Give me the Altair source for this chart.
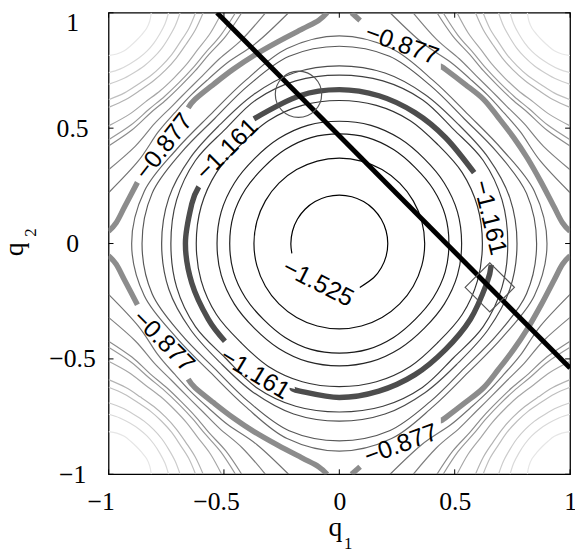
import math
import altair as alt
import pandas as pd

# ---------------- data ----------------
TICKS = [-1, -0.5, 0, 0.5, 1]

# unlabelled closed contours round the minimum at the origin:
# radius read at 0, 15, 30 and 45 degrees (the pattern is square-symmetric)
CENTRAL_R = [
    [0.37, 0.37, 0.37, 0.37],
    [0.475, 0.475, 0.47, 0.465],
    [0.53, 0.53, 0.525, 0.52],
    [0.62, 0.62, 0.615, 0.605],
    [0.73, 0.73, 0.72, 0.70],
    [0.77, 0.765, 0.745, 0.73],
    [0.855, 0.84, 0.79, 0.765],
    [0.90, 0.875, 0.815, 0.79],
]
CENTRAL_COLOR = ["#0d0d0d", "#1a1a1a", "#262626", "#333333",
                 "#404040", "#4d4d4d", "#595959", "#666666"]

# unlabelled contours round the maxima at the four corners:
# distance from the corner read at 0, 11.25, 22.5, 33.75, 45 deg away from an edge
CORNER_D = [
    [0.185, 0.182, 0.178, 0.172, 0.17],
    [0.26, 0.249, 0.24, 0.236, 0.235],
    [0.31, 0.294, 0.282, 0.277, 0.275],
    [0.377, 0.354, 0.335, 0.328, 0.325],
    [0.41, 0.383, 0.362, 0.353, 0.35],
    [0.49, 0.45, 0.418, 0.405, 0.40],
    [0.55, 0.496, 0.454, 0.436, 0.43],
    [0.577, 0.518, 0.471, 0.452, 0.445],
    [0.68, 0.59, 0.52, 0.49, 0.48],
    [0.78, 0.656, 0.56, 0.519, 0.505],
]
CORNER_COLOR = ["#e6e6e6", "#d9d9d9", "#cccccc", "#bfbfbf", "#b3b3b3",
                "#a6a6a6", "#999999", "#8c8c8c", "#808080", "#737373"]

# -0.877 contour near the top-right corner, traced from the top edge to the right edge
C877_X = [0.053, 0.09, 0.16, 0.265, 0.37, 0.46, 0.545, 0.625, 0.69, 0.755, 0.815, 0.875, 0.93, 0.967, 1.0]
C877_Y = [1.0, 0.967, 0.93, 0.875, 0.815, 0.755, 0.69, 0.625, 0.545, 0.46, 0.37, 0.265, 0.16, 0.09, 0.053]
C877_TOP_START = (0.44, 0.768)    # where the right-hand pieces resume after the label
C877_LEFT_END = (0.655, 0.588)    # where the left-hand pieces stop before the label

# -1.161 contour: visible arcs (angle in degrees, radius)
C1161_ARCS = [
    ([27.7, 45, 60, 75, 90, 105, 124.4], [0.66, 0.65, 0.655, 0.663, 0.667, 0.663, 0.655]),
    ([158, 165, 180, 195, 210, 220.5], [0.657, 0.662, 0.667, 0.662, 0.656, 0.652]),
    ([252, 255, 270, 285, 300, 315, 330, 345, 352], [0.66, 0.662, 0.667, 0.662, 0.656, 0.65, 0.656, 0.662, 0.665]),
]
# -1.525 contour: visible arc
C1525_ANG = [-65, -45, -30, -15, 0, 15, 30, 45, 60, 75, 90, 105, 120, 135, 150, 165, 180, 191.6]
C1525_R = [0.21] * len(C1525_ANG)

LABEL_TEXT = ["\u22120.877", "\u22120.877", "\u22120.877", "\u22120.877",
              "\u22121.161", "\u22121.161", "\u22121.161", "\u22121.525"]
LABEL_X = [0.271, -0.761, -0.761, 0.267, -0.487, 0.652, -0.365, -0.092]
LABEL_Y = [0.863, 0.421, -0.423, -0.870, 0.408, 0.113, -0.564, -0.171]
LABEL_ANGLE = [20, 308, 45, 340, 315, 76, 31, 27]

LINE_X = [-0.53, 1.0]
LINE_Y = [1.0, -0.54]
CIRCLE_X, CIRCLE_Y = [-0.177], [0.647]
DIAMOND_X, DIAMOND_Y = [0.652], [-0.19]

# ---------------- build tables ----------------
closed_rows = []
for k, rr in enumerate(CENTRAL_R):
    for j, a in enumerate(range(0, 360, 15)):
        m = a % 90
        m = min(m, 90 - m)
        r = rr[m // 15]
        closed_rows.append(dict(x=r * math.cos(math.radians(a)), y=r * math.sin(math.radians(a)),
                                id=f"c{k}", o=j, color=CENTRAL_COLOR[k]))
closed_df = pd.DataFrame(closed_rows)

open_rows = []
ALPHAS = [0, 11.25, 22.5, 33.75, 45, 56.25, 67.5, 78.75, 90]
for k, dd in enumerate(CORNER_D):
    for sx in (1, -1):
        for sy in (1, -1):
            for j, a in enumerate(ALPHAS):
                m = a if a <= 45 else 90 - a
                d = dd[int(round(m / 11.25))]
                px = 1 - d * math.sin(math.radians(a))
                py = 1 - d * math.cos(math.radians(a))
                open_rows.append(dict(x=sx * px, y=sy * py, id=f"k{k}_{sx}_{sy}", o=j,
                                      color=CORNER_COLOR[k]))
for j, (a, r) in enumerate(zip(C1525_ANG, C1525_R)):
    open_rows.append(dict(x=r * math.cos(math.radians(a)), y=r * math.sin(math.radians(a)),
                          id="m1525", o=j, color="#000000"))
open_df = pd.DataFrame(open_rows)

thick_rows = []
for s, (angs, rads) in enumerate(C1161_ARCS):
    for j, (a, r) in enumerate(zip(angs, rads)):
        thick_rows.append(dict(x=r * math.cos(math.radians(a)), y=r * math.sin(math.radians(a)),
                               id=f"a{s}", o=j, color="#4d4d4d"))
pieces = []
for sy in (1, -1):
    pieces.append((1, sy, None, list(range(0, 2)), None))
    pieces.append((1, sy, C877_TOP_START, list(range(5, 15)), None))
    pieces.append((-1, sy, None, list(range(0, 8)), C877_LEFT_END))
    pieces.append((-1, sy, None, list(range(11, 15)), None))
for s, (sx, sy, first, idx, last) in enumerate(pieces):
    pts = [(C877_X[i], C877_Y[i]) for i in idx]
    if first is not None:
        pts.insert(0, first)
    if last is not None:
        pts.append(last)
    for j, (px, py) in enumerate(pts):
        thick_rows.append(dict(x=sx * px, y=sy * py, id=f"g{s}", o=j, color="#8c8c8c"))
thick_df = pd.DataFrame(thick_rows)

label_df = pd.DataFrame(dict(x=LABEL_X, y=LABEL_Y, text=LABEL_TEXT, a=LABEL_ANGLE))
line_df = pd.DataFrame(dict(x=LINE_X, y=LINE_Y, o=[0, 1]))
circle_df = pd.DataFrame(dict(x=CIRCLE_X, y=CIRCLE_Y))
diamond_df = pd.DataFrame(dict(x=DIAMOND_X, y=DIAMOND_Y))
tick_df = pd.DataFrame(dict(t=TICKS))
one_df = pd.DataFrame(dict(z=[0]))

# ---------------- encodings ----------------
SCALE = alt.Scale(domain=[-1, 1], nice=False, zero=False)
SERIF = "Liberation Serif"
XAXIS = alt.Axis(values=TICKS, format="~g", title=None, grid=False, domain=False, ticks=False,
                 tickSize=0, labelFont=SERIF, labelFontSize=26, labelColor="black",
                 labelBaseline="middle", labelPadding=28, labelFlush=False, labelOverlap=False,
                 labelOffset={"condition": {"test": "datum.value < 0", "value": -8}, "value": 0})
YAXIS = alt.Axis(values=TICKS, format="~g", title=None, grid=False, domain=False, ticks=False,
                 tickSize=0, labelFont=SERIF, labelFontSize=26, labelColor="black",
                 labelAlign="center", labelBaseline="middle", labelPadding=37, labelFlush=False,
                 labelOverlap=False,
                 labelOffset={"condition": {"test": "datum.value == 1", "value": 10}, "value": 0})


def ex(f="x"):
    return alt.X(f"{f}:Q", scale=SCALE, axis=XAXIS)


def ey(f="y"):
    return alt.Y(f"{f}:Q", scale=SCALE, axis=YAXIS)


col = alt.Color("color:N", scale=None)

closed = alt.Chart(closed_df).mark_line(interpolate="cardinal-closed", strokeWidth=1.2, clip=True).encode(
    x=ex(), y=ey(), detail="id:N", order="o:Q", color=col)
opened = alt.Chart(open_df).mark_line(interpolate="cardinal", strokeWidth=1.2, clip=True).encode(
    x=ex(), y=ey(), detail="id:N", order="o:Q", color=col)
thick = alt.Chart(thick_df).mark_line(interpolate="cardinal", strokeWidth=5.5, strokeCap="butt",
                                      clip=True).encode(
    x=ex(), y=ey(), detail="id:N", order="o:Q", color=col)
labels = alt.Chart(label_df).mark_text(font="Liberation Sans", fontSize=25, color="black",
                                       align="center", baseline="middle").encode(
    x=ex(), y=ey(), text="text:N", angle=alt.Angle("a:Q", scale=None))
bline = alt.Chart(line_df).mark_line(color="black", strokeWidth=5, clip=True).encode(
    x=ex(), y=ey(), order="o:Q")
circ = alt.Chart(circle_df).mark_point(shape="circle", filled=False, size=2209, color="#555555",
                                       strokeWidth=1.2, opacity=1).encode(x=ex(), y=ey())
diam = alt.Chart(diamond_df).mark_point(shape="diamond", filled=False, size=2500, color="#555555",
                                        strokeWidth=1.2, opacity=1).encode(x=ex(), y=ey())

tb = alt.Chart(tick_df).mark_rule(color="black", strokeWidth=1).encode(
    x=ex("t"), y=alt.value(468), y2=alt.value(463))
tt = alt.Chart(tick_df).mark_rule(color="black", strokeWidth=1).encode(
    x=ex("t"), y=alt.value(0), y2=alt.value(5))
tl = alt.Chart(tick_df).mark_rule(color="black", strokeWidth=1).encode(
    y=ey("t"), x=alt.value(0), x2=alt.value(5))
tr = alt.Chart(tick_df).mark_rule(color="black", strokeWidth=1).encode(
    y=ey("t"), x=alt.value(468), x2=alt.value(463))

xq = alt.Chart(one_df).mark_text(text="q", font=SERIF, fontSize=28, color="black",
                                 align="center", baseline="alphabetic").encode(
    x=alt.value(230), y=alt.value(531))
xs = alt.Chart(one_df).mark_text(text="1", font=SERIF, fontSize=17, color="black",
                                 align="center", baseline="alphabetic").encode(
    x=alt.value(243), y=alt.value(544))
yq = alt.Chart(one_df).mark_text(text="q", font=SERIF, fontSize=28, color="black", angle=270,
                                 align="center", baseline="alphabetic").encode(
    x=alt.value(-87), y=alt.value(240))
ys = alt.Chart(one_df).mark_text(text="2", font=SERIF, fontSize=17, color="black", angle=270,
                                 align="center", baseline="alphabetic").encode(
    x=alt.value(-74), y=alt.value(223))

chart = alt.layer(closed, opened, thick, labels, bline, circ, diam, tb, tt, tl, tr, xq, xs, yq, ys).properties(
    width=468, height=468,
    autosize=alt.AutoSizeParams(type="none"),
    padding={"left": 102, "top": 1, "right": 5, "bottom": 77},
    background="white",
).configure_view(stroke="black", strokeWidth=1.3)

chart.save("out.html", embed_options={"renderer": "svg", "actions": False})
